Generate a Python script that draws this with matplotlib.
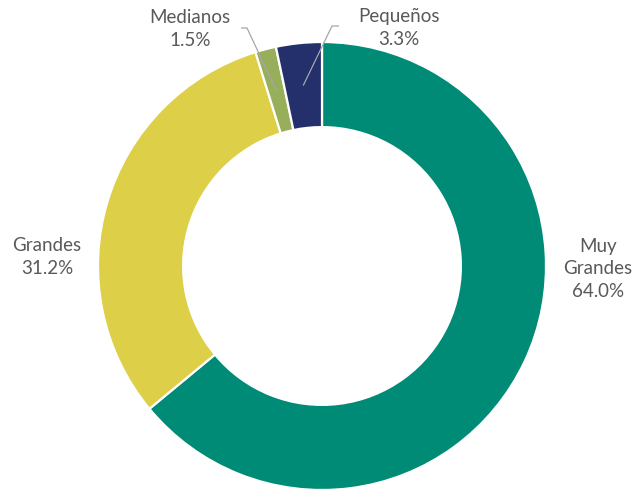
import matplotlib.pyplot as plt
import numpy as np

# data
labels = ['Muy\nGrandes', 'Grandes', 'Medianos', 'Pequeños']
shares = [64.0, 31.2, 1.5, 3.3]
colors = ['#008B76', '#DDCF48', '#97AE5A', '#24306B']

# label text positions (pixel coords, from top-left) and leader lines
text_px = [(598, 269), (47, 257), (190, 29), (399, 28)]
use_leader = [False, False, True, True]
elbow_px = [None, None, (247, 28), (332, 26)]
start_px = [None, None, (241, 28), (339, 26)]

W, H = 636, 492
CX, CY, R = 322, 266, 224


def to_data(p):
	return ((p[0] - CX) / R, (CY - p[1]) / R)


def plot():
	fig = plt.figure(figsize=(W / 100, H / 100), dpi=100)
	ax = fig.add_axes([0, 0, 1, 1])
	wedges, _ = ax.pie(shares, colors=colors, startangle=90, counterclock=False,
		radius=1.0, wedgeprops=dict(width=0.38, edgecolor='white', linewidth=1.6))
	ax.set_xlim((0 - CX) / R, (W - CX) / R)
	ax.set_ylim((CY - H) / R, CY / R)
	ax.set_aspect('equal')
	ax.axis('off')

	for i, w in enumerate(wedges):
		txt = labels[i] + '\n%.1f%%' % shares[i]
		tx, ty = to_data(text_px[i])
		ax.text(tx, ty, txt, ha='center', va='center', fontsize=13.5,
			color='#595959', family='Lato', linespacing=1.4)
		if use_leader[i]:
			ang = np.deg2rad((w.theta1 + w.theta2) / 2)
			end = (0.81 * np.cos(ang), 0.81 * np.sin(ang))
			s = to_data(start_px[i])
			e = to_data(elbow_px[i])
			ax.plot([s[0], e[0], end[0]], [s[1], e[1], end[1]],
				color='#A6A6A6', lw=0.9, solid_capstyle='butt')
	return fig


if __name__ == '__main__':
	fig = plot()
	fig.savefig('out.png', dpi=100)
